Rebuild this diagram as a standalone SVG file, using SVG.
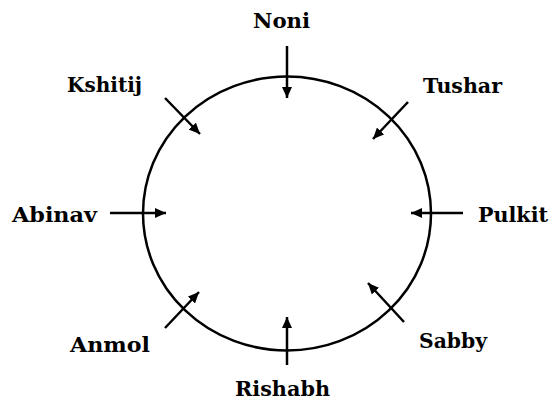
<svg xmlns="http://www.w3.org/2000/svg" width="551" height="401" viewBox="0 0 551 401">
<style>
.lbl{font-family:"DejaVu Serif","Liberation Serif",serif;font-weight:bold;font-size:20px;fill:#000}
.arr{stroke:#000;stroke-width:2.5;fill:none;marker-end:url(#ah)}
</style>
<defs>
<marker id="ah" markerUnits="userSpaceOnUse" markerWidth="12" markerHeight="10" refX="11" refY="5" orient="auto">
<path d="M0,0 L11,5 L0,10 Z" fill="#000"/>
</marker>
</defs>
<rect width="551" height="401" fill="#fff"/>
<g id="circle"><ellipse cx="287" cy="213.5" rx="144" ry="137" fill="none" stroke="#000" stroke-width="2.5"/></g>
<g id="connectors">
<line class="arr" x1="287" y1="46" x2="287" y2="98"/>
<line class="arr" x1="165" y1="98" x2="200" y2="134"/>
<line class="arr" x1="408" y1="102" x2="373" y2="139"/>
<line class="arr" x1="110" y1="213" x2="166" y2="213"/>
<line class="arr" x1="463" y1="213" x2="411" y2="213"/>
<line class="arr" x1="165" y1="328" x2="199" y2="292"/>
<line class="arr" x1="404" y1="322" x2="368" y2="283"/>
<line class="arr" x1="287" y1="365" x2="287" y2="317"/>
</g>
<g id="noni"><text class="lbl" x="253" y="28" textLength="57" lengthAdjust="spacingAndGlyphs">Noni</text></g>
<g id="kshitij"><text class="lbl" x="67" y="92" textLength="75" lengthAdjust="spacingAndGlyphs">Kshitij</text></g>
<g id="tushar"><text class="lbl" x="423" y="93" textLength="79" lengthAdjust="spacingAndGlyphs">Tushar</text></g>
<g id="abinav"><text class="lbl" x="12" y="222" textLength="85" lengthAdjust="spacingAndGlyphs">Abinav</text></g>
<g id="pulkit"><text class="lbl" x="478" y="222" textLength="70" lengthAdjust="spacingAndGlyphs">Pulkit</text></g>
<g id="anmol"><text class="lbl" x="70" y="352" textLength="80" lengthAdjust="spacingAndGlyphs">Anmol</text></g>
<g id="sabby"><text class="lbl" x="419" y="348" textLength="68" lengthAdjust="spacingAndGlyphs">Sabby</text></g>
<g id="rishabh"><text class="lbl" x="235" y="396" textLength="95" lengthAdjust="spacingAndGlyphs">Rishabh</text></g>
</svg>
